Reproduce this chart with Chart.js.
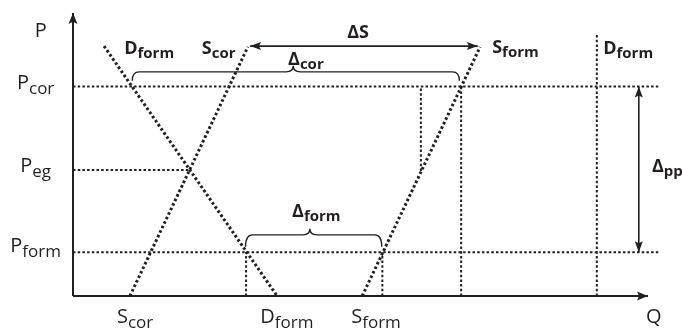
<!DOCTYPE html>
<html>
<head>
<meta charset="utf-8">
<script src="https://cdn.jsdelivr.net/npm/chart.js@4.4.1/dist/chart.umd.min.js"></script>
<style>
  body { margin: 0; background: #fff; }
  #wrap { width: 682px; height: 329px; }
</style>
</head>
<body>
<div id="wrap"><canvas id="diagram"></canvas></div>
<script>
// price levels on the P axis (chart units, 0..100)
const priceCor = 74;
const priceEq = 44.5;
const priceForm = 15.5;

// curves as [Q, P] end points
const demandForm = [[5.4, 88.3], [35.5, 0]];
const supplyCor = [[9.9, 0], [30.4, 88]];
const supplyForm = [[50.3, 0], [70.8, 88]];
const demandFormFixed = [[91.1, 0], [91.1, 92.6]];

// dotted guide lines
const guideLines = [
  [[0, priceCor], [102, priceCor]],
  [[0, priceEq], [20.2, priceEq]],
  [[0, priceForm], [102, priceForm]],
  [[30.1, 0], [30.1, priceForm]],
  [[53.8, 0], [53.8, priceForm]],
  [[60.5, 44.2], [60.5, priceCor]],
  [[67.5, 0], [67.5, priceCor]]
];

// axes and arrows
const axisQ = [[0, 0], [100, 0]];
const axisP = [[0, 0], [0, 100]];
const arrowDeltaS = [[30.8, 88.3], [70.4, 88.3]];
const arrowDeltaPP = [[98.4, priceCor], [98.4, priceForm]];

// braces: [from Q, to Q, level P, tip Q]
const braceCor = [10.3, 67.2, 79.2, 38.3];
const braceForm = [30.0, 53.7, 21.6, 41.2];

// labels: [main, subscript, Q, P]
const axisLabels = [
  ['P', '', -5.6, 91.5],
  ['P', 'cor', -6.5, 73.1],
  ['P', 'eg', -6.5, 43.8],
  ['P', 'form', -6.5, 15.5],
  ['S', 'cor', 10.8, -9.5],
  ['D', 'form', 37.2, -9.5],
  ['S', 'form', 52.7, -9.5],
  ['Q', '', 101, -9.5]
];
const curveLabels = [
  ['D', 'form', 8.9, 85.5],
  ['S', 'cor', 22.4, 85.5],
  ['S', 'form', 72.9, 85.7],
  ['D', 'form', 92.2, 85.5],
  ['ΔS', '', 47.7, 91.2],
  ['Δ', 'cor', 37.4, 81.6],
  ['Δ', 'form', 38.1, 27.9],
  ['Δ', 'pp', 100.7, 43.8]
];

const ink = '#231f20';
const pts = arr => arr.map(p => ({x: p[0], y: p[1]}));

function line(data, width, dash) {
  return {
    data: pts(data),
    showLine: true,
    borderColor: ink,
    borderWidth: width,
    borderDash: dash,
    pointRadius: 0,
    clip: false,
    borderCapStyle: 'butt'
  };
}

const datasets = [
  line(axisQ, 2, []),
  line(axisP, 2, []),
  line(arrowDeltaS, 1.6, []),
  line(arrowDeltaPP, 1.6, []),
  line(demandForm, 3, [2.6, 2.4]),
  line(supplyCor, 3, [2.6, 2.4]),
  line(supplyForm, 3, [2.6, 2.4]),
  line(demandFormFixed, 2, [2.5, 2.2])
];
guideLines.forEach(g => datasets.push(line(g, 2, [2.5, 2.2])));

const overlay = {
  id: 'overlay',
  afterDatasetsDraw(chart) {
    const ctx = chart.ctx;
    const sx = chart.scales.x, sy = chart.scales.y;
    const px = v => sx.getPixelForValue(v);
    const py = v => sy.getPixelForValue(v);
    ctx.save();
    ctx.fillStyle = ink;
    ctx.strokeStyle = ink;

    function head(from, to, len, half) {
      const x1 = px(from[0]), y1 = py(from[1]);
      const x2 = px(to[0]), y2 = py(to[1]);
      const a = Math.atan2(y2 - y1, x2 - x1);
      ctx.beginPath();
      ctx.moveTo(x2, y2);
      ctx.lineTo(x2 - len * Math.cos(a) + half * Math.sin(a), y2 - len * Math.sin(a) - half * Math.cos(a));
      ctx.lineTo(x2 - len * Math.cos(a) * 0.8, y2 - len * Math.sin(a) * 0.8);
      ctx.lineTo(x2 - len * Math.cos(a) - half * Math.sin(a), y2 - len * Math.sin(a) + half * Math.cos(a));
      ctx.closePath();
      ctx.fill();
    }
    head(axisQ[0], axisQ[1], 11, 4.5);
    head(axisP[0], axisP[1], 11, 4.5);
    head(arrowDeltaS[1], arrowDeltaS[0], 11, 4);
    head(arrowDeltaS[0], arrowDeltaS[1], 11, 4);
    head(arrowDeltaPP[1], arrowDeltaPP[0], 11, 4);
    head(arrowDeltaPP[0], arrowDeltaPP[1], 11, 4);

    function brace(b, drop, rise) {
      const x1 = px(b[0]), x2 = px(b[1]), L = py(b[2]), xt = px(b[3]);
      const r = 7;
      ctx.lineWidth = 1.4;
      ctx.beginPath();
      ctx.moveTo(x1, L + drop);
      ctx.quadraticCurveTo(x1, L, x1 + r, L);
      ctx.lineTo(xt - r, L);
      ctx.quadraticCurveTo(xt, L, xt, L - rise);
      ctx.quadraticCurveTo(xt, L, xt + r, L);
      ctx.lineTo(x2 - r, L);
      ctx.quadraticCurveTo(x2, L, x2, L + drop);
      ctx.stroke();
    }
    brace(braceCor, 9, 6);
    brace(braceForm, 12, 6);

    function label(l, bold, align) {
      const mainFont = bold ? 'bold 18px "Open Sans"' : '20px "Open Sans"';
      const subFont = bold ? 'bold 15px "Open Sans"' : '17px "Open Sans"';
      const shift = bold ? 4 : 5;
      ctx.font = mainFont;
      const w1 = ctx.measureText(l[0]).width;
      ctx.font = subFont;
      const w2 = l[1] ? ctx.measureText(l[1]).width : 0;
      let x = px(l[2]);
      const y = py(l[3]);
      if (align === 'center') x -= (w1 + w2) / 2;
      ctx.textBaseline = 'alphabetic';
      ctx.textAlign = 'left';
      ctx.font = mainFont;
      ctx.fillText(l[0], x, y);
      if (l[1]) {
        ctx.font = subFont;
        ctx.fillText(l[1], x + w1, y + shift);
      }
    }
    axisLabels.forEach(l => label(l, false, 'center'));
    curveLabels.forEach(l => label(l, true, 'left'));
    ctx.restore();
  }
};

new Chart(document.getElementById('diagram'), {
  type: 'scatter',
  data: { datasets: datasets },
  options: {
    responsive: true,
    maintainAspectRatio: false,
    animation: false,
    events: [],
    layout: { padding: { left: 73, right: 34, top: 13, bottom: 33 } },
    scales: {
      x: { type: 'linear', min: 0, max: 100, display: false },
      y: { type: 'linear', min: 0, max: 100, display: false }
    },
    plugins: { legend: { display: false }, tooltip: { enabled: false } }
  },
  plugins: [overlay]
});
</script>
</body>
</html>
